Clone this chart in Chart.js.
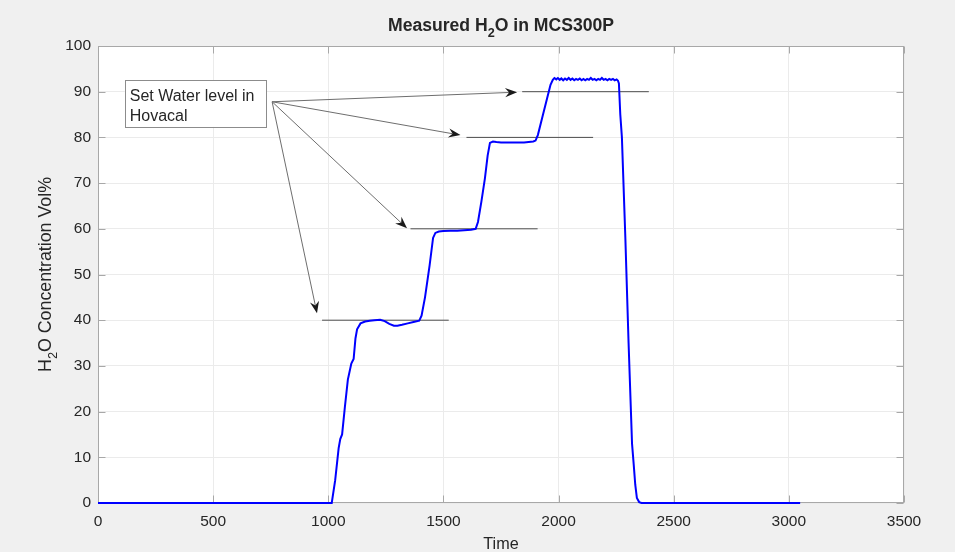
<!DOCTYPE html>
<html>
<head>
<meta charset="utf-8">
<script src="https://cdn.jsdelivr.net/npm/chart.js@4/dist/chart.umd.min.js"></script>
<style>
  html, body { margin: 0; padding: 0; background: #f0f0f0; }
  #wrap { width: 955px; height: 552px; position: relative; }
</style>
</head>
<body>
<div id="wrap"><canvas id="c" width="955" height="552"></canvas></div>
<script>
// ---------- data ----------
const timeValues = [0, 250, 500, 750, 1000, 1015, 1030, 1045, 1052, 1060, 1072, 1085, 1100, 1110, 1118, 1125, 1140, 1160, 1180, 1200, 1225, 1245, 1265, 1285, 1300, 1320, 1345, 1370, 1395, 1405, 1420, 1440, 1455, 1465, 1480, 1500, 1530, 1560, 1590, 1620, 1640, 1650, 1665, 1680, 1692, 1702, 1715, 1730, 1750, 1770, 1790, 1810, 1830, 1850, 1870, 1890, 1900, 1910, 1930, 1950, 1965, 1975, 1982, 1990, 1997, 2005, 2012, 2020, 2028, 2036, 2044, 2052, 2060, 2068, 2076, 2084, 2092, 2100, 2108, 2116, 2124, 2132, 2140, 2148, 2156, 2164, 2172, 2180, 2188, 2196, 2204, 2212, 2220, 2228, 2236, 2244, 2252, 2258, 2262, 2268, 2275, 2290, 2304, 2319, 2326, 2333, 2340, 2350, 2360, 2500, 2750, 3000, 3049];
const h2oValues = [0, 0, 0, 0, 0, 0, 5, 12, 14, 15, 21, 27, 30.5, 31.5, 36, 38, 39.3, 39.7, 39.9, 40.0, 40.1, 39.8, 39.2, 38.8, 38.8, 39.0, 39.3, 39.6, 39.9, 41, 45, 52, 58, 59.1, 59.4, 59.5, 59.6, 59.6, 59.7, 59.8, 60.0, 61.5, 66, 71, 76, 78.8, 79.1, 79.0, 78.9, 78.9, 78.9, 78.9, 78.9, 78.9, 79.0, 79.1, 79.3, 80.5, 84.5, 88.5, 91.5, 92.6, 93.0, 92.7, 93.0, 92.6, 92.9, 92.5, 92.9, 92.6, 93.0, 92.6, 92.9, 92.5, 92.8, 92.6, 92.9, 92.5, 92.8, 92.5, 92.8, 92.6, 93.0, 92.6, 92.8, 92.5, 92.8, 92.6, 93.0, 92.6, 92.8, 92.5, 92.8, 92.6, 92.8, 92.5, 92.7, 92.4, 91.8, 85, 80, 58, 35, 13, 8.6, 4, 1.1, 0.2, 0, 0, 0, 0, 0];

const setLevels = [40, 60, 80, 90];
const setLineStart = [973, 1357, 1600, 1842];
const setLineEnd = [1523, 1909, 2150, 2392];

const arrowOrigin = [756, 87.8];
const arrowTipX = [951, 1342, 1574, 1820];
const arrowTipY = [41.5, 60.1, 80.5, 89.9];

const noteLines = ['Set Water level in', 'Hovacal'];
const noteBoxX = [116, 730];
const noteBoxY = [92.5, 82.3];

const xTicks = [0, 500, 1000, 1500, 2000, 2500, 3000, 3500];
const yTicks = [0, 10, 20, 30, 40, 50, 60, 70, 80, 90, 100];

const titleParts = [['Measured H', false], ['2', true], ['O in MCS300P', false]];
const yLabelParts = [['H', false], ['2', true], ['O Concentration Vol%', false]];
const xLabelText = 'Time';

// ---------- helpers ----------
const FONT = '"Liberation Sans", Arial, Helvetica, sans-serif';
const TXT = '#262626';

function drawSubText(ctx, parts, cx, cy, size, bold, angle) {
  ctx.save();
  ctx.translate(cx, cy);
  ctx.rotate(angle);
  const w = bold ? 'bold ' : '';
  let total = 0;
  const widths = parts.map(([t, sub]) => {
    ctx.font = w + (sub ? size * 0.72 : size) + 'px ' + FONT;
    const m = ctx.measureText(t).width;
    total += m;
    return m;
  });
  let x = -total / 2;
  ctx.fillStyle = TXT;
  ctx.textBaseline = 'alphabetic';
  ctx.textAlign = 'left';
  parts.forEach(([t, sub], i) => {
    ctx.font = w + (sub ? size * 0.72 : size) + 'px ' + FONT;
    ctx.fillText(t, x, sub ? size * 0.32 : 0);
    x += widths[i];
  });
  ctx.restore();
}

function arrowHead(ctx, x0, y0, x1, y1) {
  const a = Math.atan2(y1 - y0, x1 - x0);
  const L = 12, W = 4.6, back = 8;
  ctx.save();
  ctx.translate(x1, y1);
  ctx.rotate(a);
  ctx.beginPath();
  ctx.moveTo(0, 0);
  ctx.lineTo(-L, -W);
  ctx.lineTo(-back, 0);
  ctx.lineTo(-L, W);
  ctx.closePath();
  ctx.fillStyle = '#1a1a1a';
  ctx.fill();
  ctx.restore();
}

const decorPlugin = {
  id: 'decor',
  beforeDatasetsDraw(chart) {
    const ctx = chart.ctx;
    const ca = chart.chartArea;
    const xs = chart.scales.x, ys = chart.scales.y;
    ctx.save();
    ctx.strokeStyle = '#a8a8a8';
    ctx.lineWidth = 1;
    const L = Math.round(ca.left) + 0.5, R = Math.round(ca.right) - 0.5;
    const T = Math.round(ca.top) + 0.5, B = Math.round(ca.bottom) - 0.5;
    ctx.strokeRect(L, T, R - L, B - T);
    ctx.beginPath();
    xTicks.forEach(v => {
      const p = Math.round(xs.getPixelForValue(v)) + 0.5;
      ctx.moveTo(p, B); ctx.lineTo(p, B - 7);
      ctx.moveTo(p, T); ctx.lineTo(p, T + 7);
    });
    yTicks.forEach(v => {
      const p = Math.round(ys.getPixelForValue(v)) + 0.5;
      ctx.moveTo(L, p); ctx.lineTo(L + 7, p);
      ctx.moveTo(R, p); ctx.lineTo(R - 7, p);
    });
    ctx.stroke();
    ctx.restore();
  },
  afterDatasetsDraw(chart) {
    const ctx = chart.ctx;
    const xs = chart.scales.x, ys = chart.scales.y;

    // arrows
    const ox = xs.getPixelForValue(arrowOrigin[0]);
    const oy = ys.getPixelForValue(arrowOrigin[1]);
    ctx.save();
    ctx.strokeStyle = '#6e6e6e';
    ctx.lineWidth = 1;
    arrowTipX.forEach((tx, i) => {
      const px = xs.getPixelForValue(tx);
      const py = ys.getPixelForValue(arrowTipY[i]);
      const a = Math.atan2(py - oy, px - ox);
      ctx.beginPath();
      ctx.moveTo(ox, oy);
      ctx.lineTo(px - Math.cos(a) * 8, py - Math.sin(a) * 8);
      ctx.stroke();
      arrowHead(ctx, ox, oy, px, py);
    });
    ctx.restore();

    // note box
    const bx0 = xs.getPixelForValue(noteBoxX[0]);
    const bx1 = xs.getPixelForValue(noteBoxX[1]);
    const by0 = ys.getPixelForValue(noteBoxY[0]);
    const by1 = ys.getPixelForValue(noteBoxY[1]);
    ctx.save();
    ctx.fillStyle = '#ffffff';
    ctx.fillRect(bx0, by0, bx1 - bx0, by1 - by0);
    ctx.strokeStyle = '#8c8c8c';
    ctx.lineWidth = 1;
    ctx.strokeRect(Math.round(bx0) + 0.5, Math.round(by0) + 0.5, Math.round(bx1 - bx0), Math.round(by1 - by0));
    ctx.fillStyle = TXT;
    ctx.font = '16px ' + FONT;
    ctx.textBaseline = 'alphabetic';
    ctx.textAlign = 'left';
    noteLines.forEach((t, i) => ctx.fillText(t, bx0 + 5, by0 + 20.5 + i * 20));
    ctx.restore();
  },
  afterDraw(chart) {
    const ctx = chart.ctx;
    const ca = chart.chartArea;
    const cx = (ca.left + ca.right) / 2;
    drawSubText(ctx, titleParts, cx, 31, 17.6, true, 0);
    drawSubText(ctx, yLabelParts, 51, (ca.top + ca.bottom) / 2, 17.8, false, -Math.PI / 2);
    drawSubText(ctx, [[xLabelText, false]], cx, 549, 16.2, false, 0);
  }
};

const bgPlugin = {
  id: 'bg',
  beforeDraw(chart) {
    const ctx = chart.ctx, ca = chart.chartArea;
    ctx.save();
    ctx.fillStyle = '#f0f0f0';
    ctx.fillRect(0, 0, chart.width, chart.height);
    ctx.fillStyle = '#ffffff';
    ctx.fillRect(ca.left, ca.top, ca.right - ca.left, ca.bottom - ca.top);
    ctx.restore();
  }
};

const refDatasets = setLevels.map((lv, i) => ({
  data: [{ x: setLineStart[i], y: lv }, { x: setLineEnd[i], y: lv }],
  borderColor: '#4d4d4d',
  borderWidth: 1,
  pointRadius: 0,
  order: 2
}));

new Chart(document.getElementById('c'), {
  type: 'line',
  data: {
    datasets: [
      {
        data: timeValues.map((t, i) => ({ x: t, y: h2oValues[i] })),
        borderColor: '#0000ff',
        borderWidth: 2,
        pointRadius: 0,
        tension: 0,
        clip: 4,
        order: 1
      },
      ...refDatasets
    ]
  },
  options: {
    responsive: false,
    animation: false,
    events: [],
    layout: { padding: { top: 46, right: 51, left: 0, bottom: 0 } },
    plugins: { legend: { display: false }, tooltip: { enabled: false }, title: { display: false } },
    scales: {
      x: {
        type: 'linear', min: 0, max: 3500,
        afterFit: s => { s.height = 49; },
        afterBuildTicks: s => { s.ticks = xTicks.map(v => ({ value: v })); },
        ticks: { color: TXT, font: { family: FONT, size: 15.5 }, padding: 9, maxRotation: 0, callback: v => String(v) },
        grid: { color: '#ebebeb', drawTicks: false },
        border: { display: false }
      },
      y: {
        type: 'linear', min: 0, max: 100,
        afterFit: s => { s.width = 98; },
        afterBuildTicks: s => { s.ticks = yTicks.map(v => ({ value: v })); },
        ticks: { color: TXT, font: { family: FONT, size: 15.5 }, padding: 7, callback: v => String(v) },
        grid: { color: '#ebebeb', drawTicks: false },
        border: { display: false }
      }
    }
  },
  plugins: [bgPlugin, decorPlugin]
});
</script>
</body>
</html>
